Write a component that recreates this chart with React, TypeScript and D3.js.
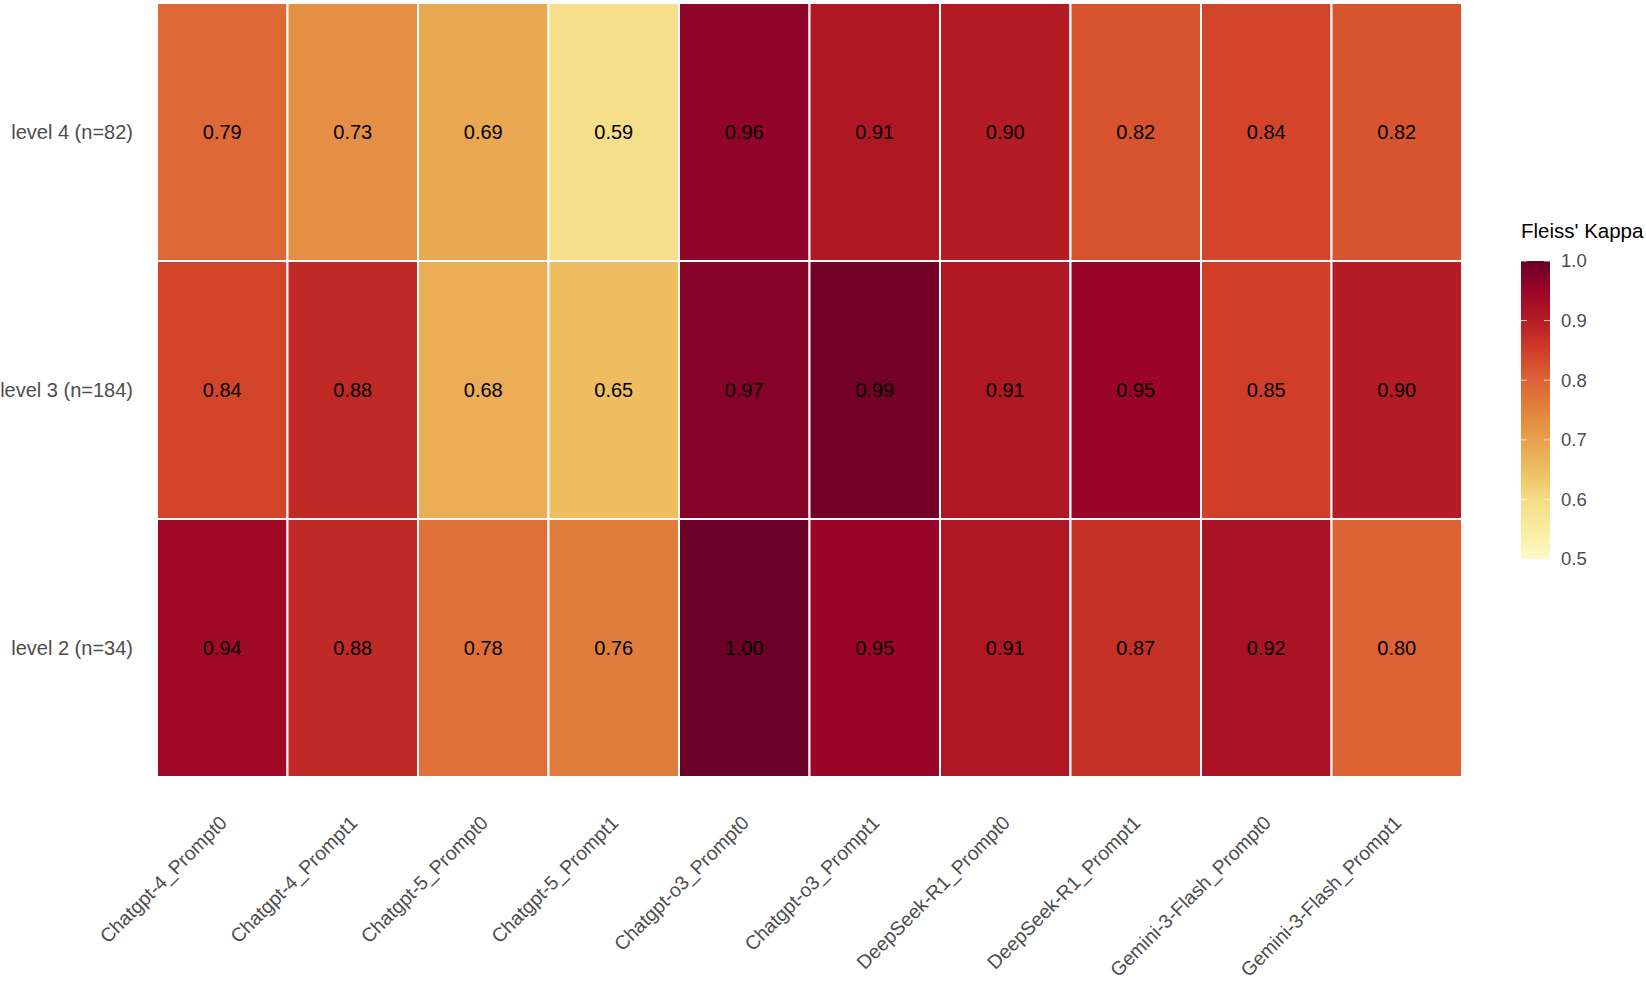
import * as d3 from 'd3';

// Fleiss' Kappa agreement per model/prompt and level
const models = [
  'Chatgpt-4_Prompt0',
  'Chatgpt-4_Prompt1',
  'Chatgpt-5_Prompt0',
  'Chatgpt-5_Prompt1',
  'Chatgpt-o3_Prompt0',
  'Chatgpt-o3_Prompt1',
  'DeepSeek-R1_Prompt0',
  'DeepSeek-R1_Prompt1',
  'Gemini-3-Flash_Prompt0',
  'Gemini-3-Flash_Prompt1',
];
const levels = ['level 4 (n=82)', 'level 3 (n=184)', 'level 2 (n=34)'];

const level4 = [0.79, 0.73, 0.69, 0.59, 0.96, 0.91, 0.9, 0.82, 0.84, 0.82];
const level3 = [0.84, 0.88, 0.68, 0.65, 0.97, 0.99, 0.91, 0.95, 0.85, 0.9];
const level2 = [0.94, 0.88, 0.78, 0.76, 1.0, 0.95, 0.91, 0.87, 0.92, 0.8];

const legendBreaks = [0.5, 0.6, 0.7, 0.8, 0.9, 1.0];

// YlOrRd-like ramp, as it appears in the figure (muted, darker top end)
const rampDomain = [0.5, 0.55, 0.6, 0.65, 0.7, 0.75, 0.8, 0.85, 0.9, 0.95, 1.0];
const rampColors = [
  '#fefbc6', '#f9eca0', '#f5dc86', '#edbd60', '#e7a14c', '#e2833e',
  '#dd6234', '#d03d29', '#b41b24', '#9b0529', '#6b0028',
];

const W = 1646;
const H = 982;
const FONT = '"Liberation Sans", Arial, Helvetica, sans-serif';
const GREY = '#4d4d4d';

export default function App() {
  const rows = [level4, level3, level2];
  const cells = levels.flatMap((lvl, r) =>
    models.map((m, c) => ({ level: lvl, model: m, value: rows[r][c] }))
  );

  const x = d3.scaleBand<string>().domain(models).range([157, 1462]);
  const y = d3.scaleBand<string>().domain(levels).range([3, 777]);
  const color = d3
    .scaleLinear<string>()
    .domain(rampDomain)
    .range(rampColors)
    .interpolate(d3.interpolateLab)
    .clamp(true);

  // legend colourbar
  const barX = 1521;
  const barW = 29;
  const legendY = d3.scaleLinear().domain([0.5, 1.0]).range([559, 261]);
  const gradStops = d3.range(0, 1.0001, 0.025);

  return (
    <div style={{ position: 'absolute', left: 0, top: 0 }}>
      <svg width={W} height={H} style={{ display: 'block', background: '#fff' }} fontFamily={FONT}>
        <defs>
          <linearGradient id="kappa-grad" x1="0" y1="1" x2="0" y2="0">
            {gradStops.map((t) => (
              <stop key={t} offset={`${t * 100}%`} stopColor={color(0.5 + t * 0.5)} />
            ))}
          </linearGradient>
        </defs>

        {/* tiles */}
        {cells.map((d) => (
          <g key={`${d.level}-${d.model}`}>
            <rect
              x={x(d.model)!}
              y={y(d.level)!}
              width={x.bandwidth()}
              height={y.bandwidth()}
              fill={color(d.value)}
              stroke="#fff"
              strokeWidth={2}
            />
            <text
              x={x(d.model)! + x.bandwidth() / 2}
              y={y(d.level)! + y.bandwidth() / 2}
              dy="0.35em"
              textAnchor="middle"
              fontSize={20}
              fill="#000"
            >
              {d.value.toFixed(2)}
            </text>
          </g>
        ))}

        {/* y axis labels */}
        {levels.map((l) => (
          <text
            key={l}
            x={133}
            y={y(l)! + y.bandwidth() / 2}
            dy="0.35em"
            textAnchor="end"
            fontSize={20}
            fill={GREY}
          >
            {l}
          </text>
        ))}

        {/* x axis labels, rotated */}
        {models.map((m) => (
          <text
            key={m}
            transform={`translate(${x(m)! + x.bandwidth() / 2 + 6},824) rotate(-45)`}
            textAnchor="end"
            fontSize={19.5}
            fill={GREY}
          >
            {m}
          </text>
        ))}

        {/* legend */}
        <text x={1521} y={238} fontSize={20.5} fill="#000">
          Fleiss' Kappa
        </text>
        <rect x={barX} y={legendY(1.0)} width={barW} height={legendY(0.5) - legendY(1.0)} fill="url(#kappa-grad)" />
        {legendBreaks.map((b) => (
          <g key={b}>
            <line x1={barX} x2={barX + 6} y1={legendY(b)} y2={legendY(b)} stroke="#fff" strokeWidth={1} opacity={0.8} />
            <line x1={barX + barW - 6} x2={barX + barW} y1={legendY(b)} y2={legendY(b)} stroke="#fff" strokeWidth={1} opacity={0.8} />
            <text x={1561} y={legendY(b)} dy="0.35em" fontSize={18.5} fill={GREY}>
              {b.toFixed(1)}
            </text>
          </g>
        ))}
      </svg>
    </div>
  );
}
